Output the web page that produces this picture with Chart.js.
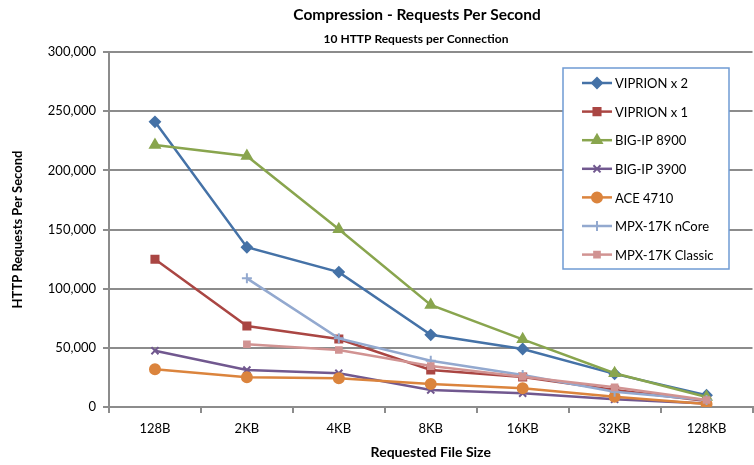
<!DOCTYPE html>
<html>
<head>
<meta charset="utf-8">
<script src="https://cdn.jsdelivr.net/npm/chart.js@4"></script>
<style>
    html, body { margin: 0; padding: 0; background: #fff; overflow: hidden; }
    #wrap { width: 760px; height: 465px; }
</style>
</head>
<body>
<div id="wrap"><canvas id="chart"></canvas></div>
<script>
// chart data
const fileSizes = ['128B', '2KB', '4KB', '8KB', '16KB', '32KB', '128KB'];
const yTicks = [0, 50000, 100000, 150000, 200000, 250000, 300000];

const viprionX2 = [241000, 135000, 114000, 61000, 49000, 28000, 10000];
const viprionX1 = [124800, 68400, 57500, 31300, 25400, 14400, 5000];
const bigip8900 = [221400, 212100, 150200, 86200, 57200, 28500, 8500];
const bigip3900 = [47600, 31300, 28500, 14400, 11600, 6500, 3000];
const ace4710 = [31900, 25100, 24300, 19400, 15800, 8700, 2500];
const mpxNCore = [null, 108700, 58000, 39100, 27000, 12900, 6000];
const mpxClassic = [null, 53000, 48200, 34600, 25600, 16600, 5900];

const seriesNames = ['VIPRION x 2', 'VIPRION x 1', 'BIG-IP 8900', 'BIG-IP 3900', 'ACE 4710', 'MPX-17K nCore', 'MPX-17K Classic'];
const seriesValues = [viprionX2, viprionX1, bigip8900, bigip3900, ace4710, mpxNCore, mpxClassic];
const seriesColors = ['#4572A7', '#AA4643', '#89A54E', '#71588F', '#DB843D', '#93A9CF', '#D19392'];
const seriesMarkers = ['rectRot', 'rect', 'triangle', 'crossRot', 'circle', 'cross', 'rect'];
const markerSizes = [5, 5, 5.5, 5, 5, 5, 4];

const FONT = 'Lato, "Open Sans", sans-serif';
Chart.defaults.font.family = FONT;
Chart.defaults.color = '#000';

/**
 * Titles drawn at fixed spots above the plot
 */
const titlePlugin = {
    id: 'titles',
    afterDraw(chart) {
        const ctx = chart.ctx;
        ctx.save();
        ctx.fillStyle = '#000';
        ctx.textAlign = 'center';
        ctx.textBaseline = 'middle';
        ctx.font = 'bold 15.5px ' + FONT;
        ctx.fillText('Compression - Requests Per Second', 417, 15);
        ctx.font = 'bold 12px ' + FONT;
        ctx.fillText('10 HTTP Requests per Connection', 416, 39);
        ctx.restore();
    }
};

/**
 * Boxed legend inside the plot area
 */
const boxLegendPlugin = {
    id: 'boxLegend',
    afterDatasetsDraw(chart) {
        const ctx = chart.ctx;
        ctx.save();
        ctx.fillStyle = '#fff';
        ctx.fillRect(563, 68, 166, 201);
        ctx.strokeStyle = '#6F9BD3';
        ctx.lineWidth = 1.5;
        ctx.strokeRect(563, 68, 166, 201);

        chart.data.datasets.forEach((ds, i) => {
            const y = 83 + i * 28.6;
            ctx.strokeStyle = ds.borderColor;
            ctx.lineWidth = 2.5;
            ctx.beginPath();
            ctx.moveTo(582, y);
            ctx.lineTo(612, y);
            ctx.stroke();

            ctx.fillStyle = ds.borderColor;
            ctx.strokeStyle = ds.borderColor;
            ctx.lineWidth = 2;
            Chart.helpers.drawPoint(ctx, {
                pointStyle: ds.pointStyle,
                radius: ds.pointRadius,
                rotation: 0,
                borderWidth: 2
            }, 597, y);

            ctx.fillStyle = '#000';
            ctx.font = '13px ' + FONT;
            ctx.textAlign = 'left';
            ctx.textBaseline = 'middle';
            ctx.fillText(ds.label, 615, y + 1);
        });
        ctx.restore();
    }
};

const datasets = seriesNames.map((name, i) => ({
    label: name,
    data: seriesValues[i],
    borderColor: seriesColors[i],
    backgroundColor: seriesColors[i],
    pointBackgroundColor: seriesColors[i],
    pointBorderColor: seriesColors[i],
    pointStyle: seriesMarkers[i],
    pointRadius: markerSizes[i],
    pointBorderWidth: 2,
    borderWidth: 2.5,
    tension: 0,
    spanGaps: false,
    order: seriesNames.length - i
}));

new Chart(document.getElementById('chart').getContext('2d'), {
    type: 'line',
    data: { labels: fileSizes, datasets: datasets },
    options: {
        responsive: true,
        maintainAspectRatio: false,
        animation: false,
        layout: { padding: { top: 52, left: 0, right: 0, bottom: 0 } },
        plugins: {
            legend: { display: false },
            tooltip: { enabled: false }
        },
        scales: {
            x: {
                offset: true,
                afterFit(scale) { scale.height = 58; },
                grid: {
                    offset: true,
                    drawOnChartArea: false,
                    drawTicks: true,
                    tickLength: 6,
                    color: '#8C8C8C',
                    lineWidth: 2
                },
                border: { display: true, color: '#8C8C8C', width: 2 },
                ticks: { font: { size: 13 }, padding: 8, maxRotation: 0 },
                title: {
                    display: true,
                    text: 'Requested File Size',
                    font: { size: 14, weight: 'bold' },
                    padding: { top: 0, bottom: 4 }
                }
            },
            y: {
                min: 0,
                max: 300000,
                afterFit(scale) { scale.width = 109; },
                afterBuildTicks(scale) { scale.ticks = yTicks.map(v => ({ value: v })); },
                grid: {
                    color: '#8C8C8C',
                    lineWidth: 2,
                    tickLength: 6
                },
                border: { display: true, color: '#8C8C8C', width: 2 },
                ticks: {
                    font: { size: 13 },
                    padding: 7,
                    callback: v => v.toLocaleString('en-US')
                },
                title: {
                    display: true,
                    text: 'HTTP Requests Per Second',
                    font: { size: 13, weight: 'bold' },
                    padding: { top: 10, bottom: 0 }
                }
            }
        }
    },
    plugins: [titlePlugin, boxLegendPlugin]
});
</script>
</body>
</html>
